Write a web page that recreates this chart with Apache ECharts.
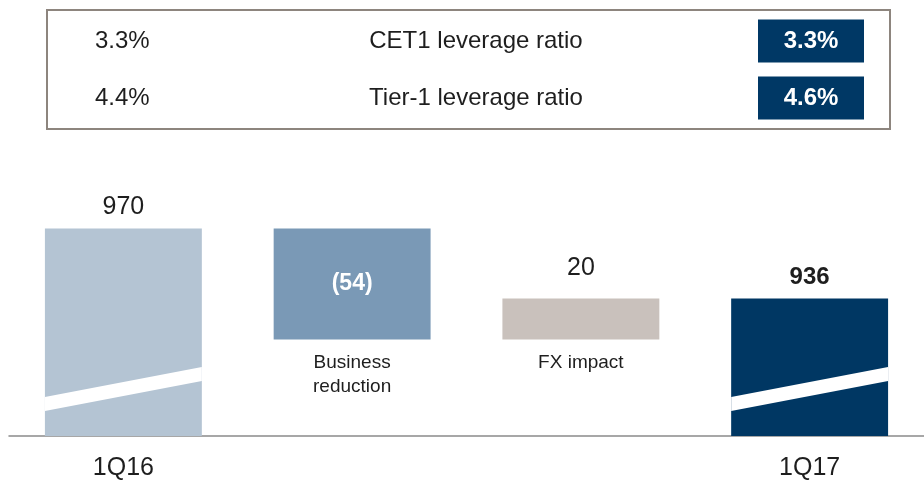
<!DOCTYPE html>
<html>
<head>
<meta charset="utf-8">
<script src="https://cdn.jsdelivr.net/npm/echarts@6/dist/echarts.min.js"></script>
<style>
  html, body { margin: 0; padding: 0; background: #fff; }
  #chart { width: 924px; height: 482px; }
</style>
</head>
<body>
<div id="chart"></div>
<script>
// leverage ratio table
const ratioNames = ['CET1 leverage ratio', 'Tier-1 leverage ratio'];
const ratioBefore = ['3.3%', '4.4%'];
const ratioAfter = ['3.3%', '4.6%'];

// waterfall (CHF bn)
const categories = ['1Q16', 'Business\nreduction', 'FX impact', '1Q17'];
const axisNames = ['1Q16', '', '', '1Q17'];
const values = [970, -54, 20, 936];
const isTotal = [true, false, false, true];
const colors = ['#b4c4d3', '#7a99b6', '#c9c1bc', '#003763'];

const yMin = 869;
const yMax = 1000;
const barRatio = 0.686;

// running totals -> invisible base + visible part
let base = [], height = [], running = 0;
values.forEach(function (v, i) {
  if (isTotal[i]) {
    base.push(0); height.push(v); running = v;
  } else {
    let start = v < 0 ? running + v : running;
    base.push(start); height.push(Math.abs(v)); running += v;
  }
});

const txt = '#1e1e1e';
const font = '"Liberation Sans", Arial, Helvetica, sans-serif';

let myChart = echarts.init(document.getElementById('chart'));

// table built as graphic elements
let tableGraphic = [{
  type: 'rect',
  shape: { x: 47, y: 10, width: 843, height: 119 },
  style: { fill: '#fff', stroke: '#8d857e', lineWidth: 2 }
}];
const rowY = [41, 98];
ratioNames.forEach(function (name, i) {
  tableGraphic.push({
    type: 'text', x: 95, y: rowY[i],
    style: { text: ratioBefore[i], font: '24px ' + font, fill: txt, textAlign: 'left', textVerticalAlign: 'middle' }
  });
  tableGraphic.push({
    type: 'text', x: 476, y: rowY[i],
    style: { text: name, font: '24px ' + font, fill: txt, textAlign: 'center', textVerticalAlign: 'middle' }
  });
  tableGraphic.push({
    type: 'rect',
    shape: { x: 758, y: rowY[i] - 21.5, width: 106, height: 43 },
    style: { fill: '#003865' }
  });
  tableGraphic.push({
    type: 'text', x: 811, y: rowY[i],
    style: { text: ratioAfter[i], font: 'bold 24px ' + font, fill: '#fff', textAlign: 'center', textVerticalAlign: 'middle' }
  });
});

myChart.setOption({
  animation: false,
  textStyle: { fontFamily: font },
  graphic: tableGraphic,
  grid: { left: 9, right: 0, top: 167, bottom: 46 },
  xAxis: {
    type: 'category',
    data: axisNames,
    axisLine: { lineStyle: { color: '#8a8a8a', width: 1.5 } },
    axisTick: { show: false },
    axisLabel: { color: txt, fontSize: 25, margin: 20, interval: 0 }
  },
  yAxis: {
    type: 'value', min: yMin, max: yMax, show: false
  },
  series: [
    {
      name: 'base',
      type: 'bar',
      stack: 'wf',
      barWidth: (barRatio * 100) + '%',
      itemStyle: { color: 'transparent' },
      data: base.map(function (b, i) {
        return {
          value: b,
          label: {
            show: !isTotal[i],
            position: 'insideTop',
            distance: 11,
            formatter: categories[i],
            color: txt,
            fontSize: 19,
            lineHeight: 24
          }
        };
      })
    },
    {
      name: 'value',
      type: 'bar',
      stack: 'wf',
      barWidth: (barRatio * 100) + '%',
      data: height.map(function (h, i) {
        let neg = values[i] < 0;
        return {
          value: h,
          itemStyle: { color: colors[i] },
          label: {
            show: true,
            position: neg ? 'inside' : 'top',
            distance: i === 2 ? 18 : 9,
            formatter: neg ? '(' + Math.abs(values[i]) + ')' : String(values[i]),
            color: neg ? '#fff' : txt,
            fontWeight: (neg || i === 3) ? 'bold' : 'normal',
            fontSize: neg ? 23 : (i === 3 ? 24 : 25)
          }
        };
      })
    },
    {
      // axis-break stripe on the total bars
      name: 'break',
      type: 'custom',
      z: 5,
      silent: true,
      data: values.map(function (v, i) { return isTotal[i] ? [i] : null; }).filter(function (d) { return d; }),
      renderItem: function (params, api) {
        let p = api.coord([api.value(0), yMin]);
        let w = api.size([1, 0])[0] * barRatio;
        let x0 = p[0] - w / 2, x1 = p[0] + w / 2, y = p[1];
        return {
          type: 'polygon',
          shape: { points: [[x0, y - 39], [x1, y - 69], [x1, y - 55], [x0, y - 25]] },
          style: { fill: '#fff' }
        };
      }
    }
  ]
});
</script>
</body>
</html>
